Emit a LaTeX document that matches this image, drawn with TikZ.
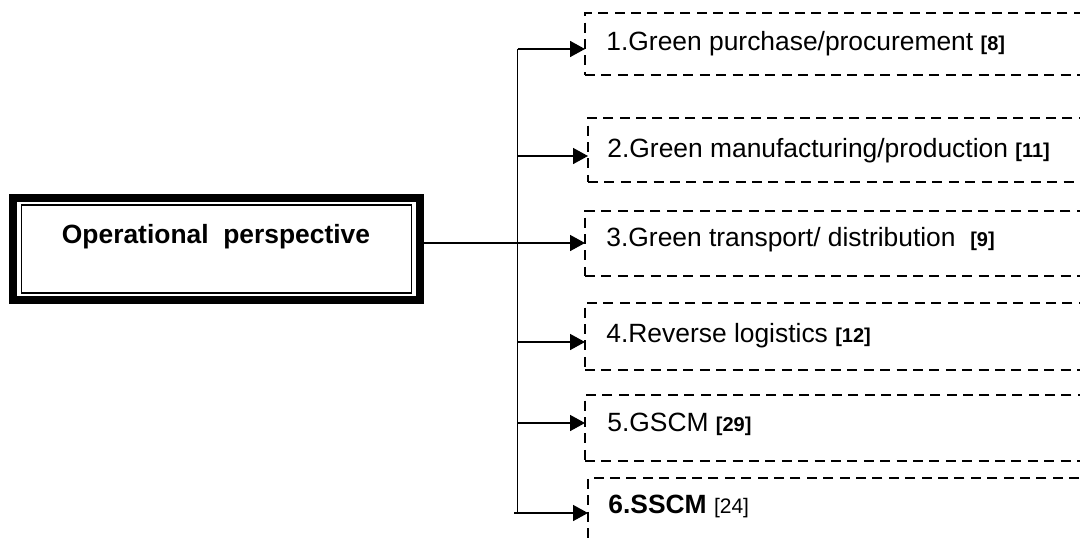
\documentclass[tikz,border=0pt]{standalone}
\usepackage{fontspec}
\setmainfont{Liberation Sans}
\usetikzlibrary{arrows.meta,calc}
\newcommand\citeno[1]{{\fontsize{10}{12}\selectfont\bfseries #1}}
\newcommand\citenoplain[1]{{\fontsize{10.5}{12}\selectfont\mdseries #1}}
\tikzset{
  frame/.style={draw, line width=4pt, minimum width=203.5pt, minimum height=51pt, inner sep=0pt},
  innerframe/.style={line width=0.8pt},
  title/.style={anchor=base, inner sep=0pt, font=\fontsize{13.2}{15}\selectfont\bfseries},
  itembox/.style={draw, dash pattern=on 5pt off 3.2pt, line width=1pt, anchor=north west,
                  minimum width=265pt, inner sep=0pt, outer sep=0pt},
  itemtext/.style={anchor=base west, inner sep=0pt, font=\fontsize{13.2}{15}\selectfont},
  trunk/.style={line width=0.8pt},
  link/.style={line width=0.8pt, -{Triangle[length=7.5pt,width=8pt]}}
}
\begin{document}
\begin{tikzpicture}[x=0.5pt,y=-0.5pt]
\useasboundingbox (0,0) rectangle (1080,541);
\clip (0,0) rectangle (1080,541);

% left frame with a thick outer and a thin inner border
\node[frame] (op) at (216.5,249) {};
\draw[innerframe] ($(op.north west)+(6.2pt,-5.6pt)$) rectangle ($(op.south east)+(-6.2pt,5.6pt)$);
\node[title] (optitle) at (216,243) {Operational~ perspective};

% dashed item boxes (open to the right)
\node[itembox, minimum height=31pt]   (b1) at (585,13)  {};
\node[itembox, minimum height=32pt]   (b2) at (588,118) {};
\node[itembox, minimum height=32.5pt] (b3) at (585,211) {};
\node[itembox, minimum height=33.5pt] (b4) at (585,303) {};
\node[itembox, minimum height=33pt]   (b5) at (585,395) {};
\node[itembox, minimum height=60pt]   (b6) at (588,478) {};

% item labels
\node[itemtext] (t1) at (606,50)  {1.Green purchase/procurement \citeno{[8]}};
\node[itemtext] (t2) at (607,157) {2.Green manufacturing/production \citeno{[11]}};
\node[itemtext] (t3) at (606,246) {3.Green transport/ distribution~ \citeno{[9]}};
\node[itemtext] (t4) at (606,342) {4.Reverse logistics \citeno{[12]}};
\node[itemtext] (t5) at (607,431) {5.GSCM \citeno{[29]}};
\node[itemtext] (t6) at (608,513) {\textbf{6.SSCM} \citenoplain{[24]}};

% trunk junctions
\coordinate (j1) at (517.5,49);
\coordinate (j2) at (517.5,156);
\coordinate (j3) at (517.5,243);
\coordinate (j4) at (517.5,342);
\coordinate (j5) at (517.5,423);
\coordinate (j6) at (517.5,513);
\coordinate (s6) at (514,513);

\draw[trunk] (j1) -- (j6);
\draw[link] (op.east |- j3) -- (j3 -| b3.west);
\draw[link] (j1) -- (j1 -| b1.west);
\draw[link] (j2) -- (j2 -| b2.west);
\draw[link] (j4) -- (j4 -| b4.west);
\draw[link] (j5) -- (j5 -| b5.west);
\draw[link] (s6) -- (s6 -| b6.west);
\end{tikzpicture}
\end{document}
